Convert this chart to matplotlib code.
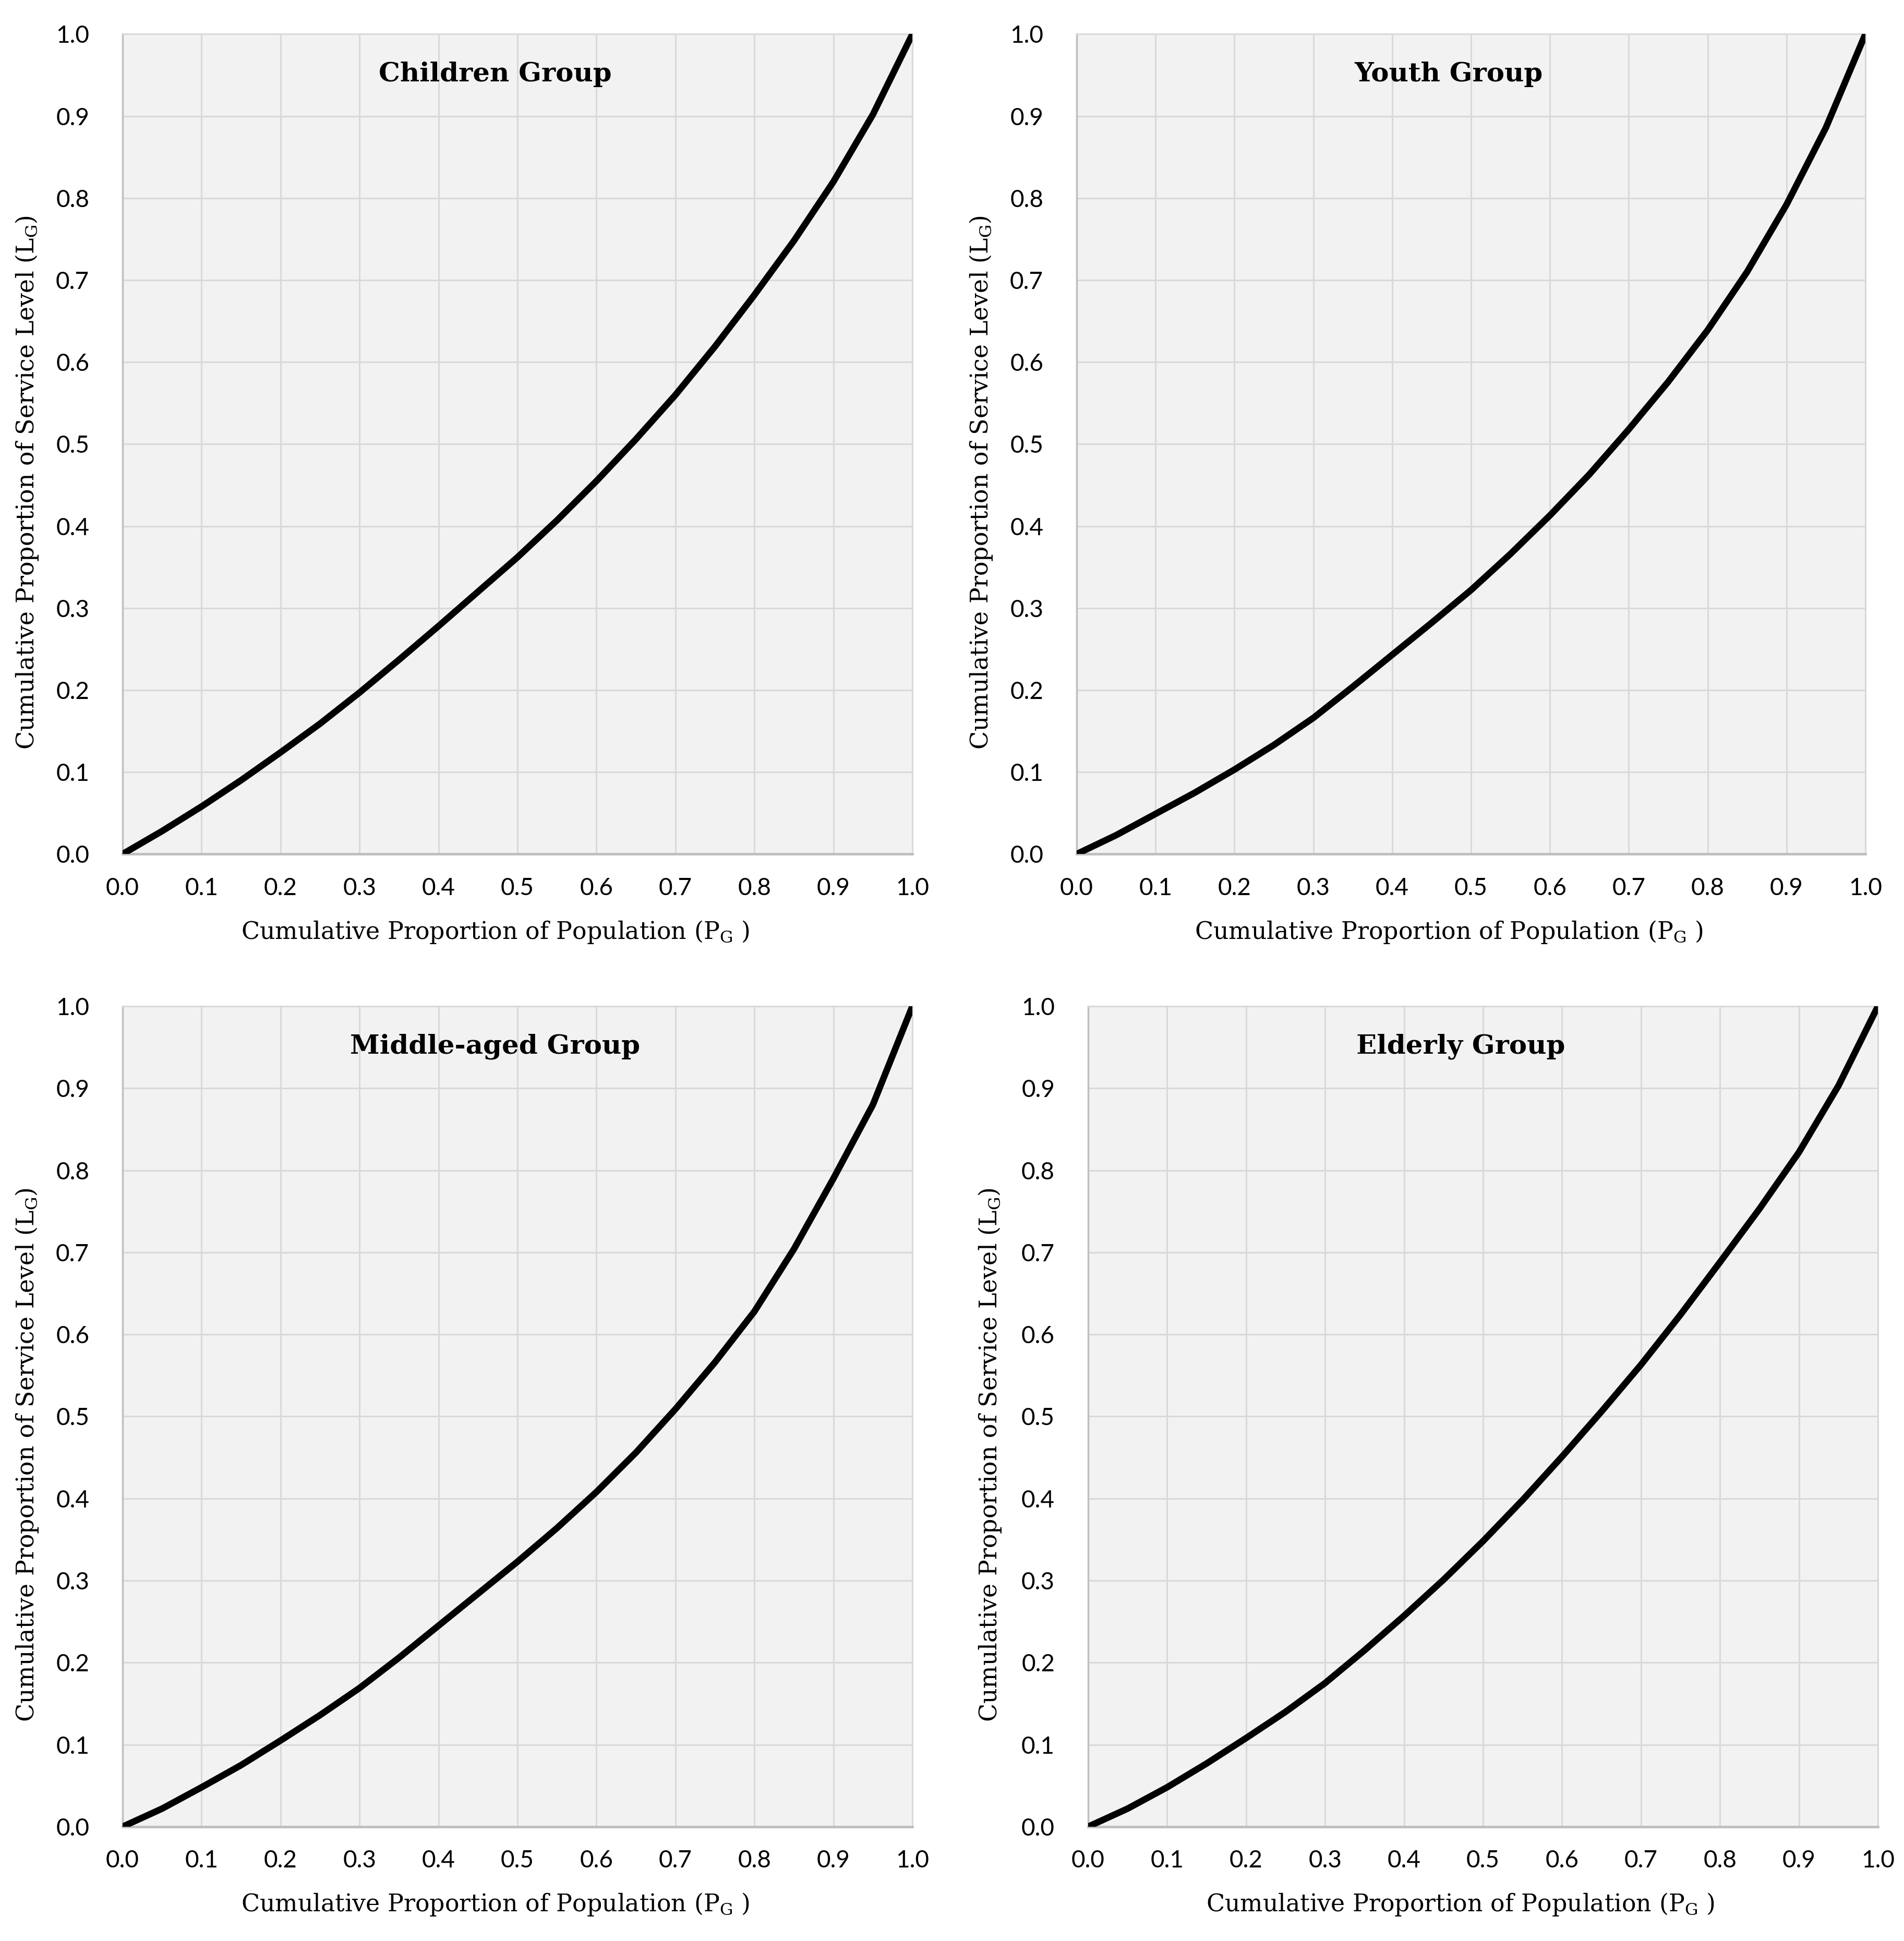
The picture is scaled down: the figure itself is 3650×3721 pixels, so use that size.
import matplotlib
matplotlib.use("Agg")
import matplotlib.pyplot as plt

plt.rcParams['font.family'] = ['DejaVu Serif']
plt.rcParams['mathtext.fontset'] = 'dejavuserif'

# cumulative proportion of population (x)
pop = [0.0, 0.05, 0.1, 0.15, 0.2, 0.25, 0.3, 0.35, 0.4, 0.45, 0.5,
       0.55, 0.6, 0.65, 0.7, 0.75, 0.8, 0.85, 0.9, 0.95, 1.0]

# cumulative proportion of service level per group
children = [0.0, 0.028, 0.058, 0.090, 0.124, 0.159, 0.197, 0.237, 0.278, 0.320, 0.362,
            0.407, 0.455, 0.506, 0.560, 0.619, 0.682, 0.748, 0.820, 0.902, 1.0]
youth = [0.0, 0.023, 0.049, 0.075, 0.103, 0.133, 0.166, 0.204, 0.243, 0.282, 0.322,
         0.366, 0.413, 0.463, 0.518, 0.576, 0.639, 0.710, 0.792, 0.886, 1.0]
middle = [0.0, 0.022, 0.048, 0.075, 0.105, 0.136, 0.169, 0.206, 0.245, 0.284, 0.323,
          0.364, 0.408, 0.456, 0.509, 0.566, 0.628, 0.704, 0.790, 0.880, 1.0]
elderly = [0.0, 0.022, 0.048, 0.077, 0.108, 0.140, 0.175, 0.215, 0.257, 0.301, 0.348,
           0.398, 0.451, 0.506, 0.563, 0.624, 0.688, 0.753, 0.822, 0.903, 1.0]

titles = ['Children Group', 'Youth Group', 'Middle-aged Group', 'Elderly Group']
series = [children, youth, middle, elderly]

ticks = [i / 10 for i in range(11)]
tick_labels = ['%.1f' % t for t in ticks]

# axes boxes in figure fractions [left, bottom, width, height]
boxes = [
    [0.0644, 0.5600, 0.4148, 0.4224],
    [0.5655, 0.5600, 0.4142, 0.4224],
    [0.0644, 0.0589, 0.4148, 0.4227],
    [0.5715, 0.0589, 0.4148, 0.4227],
]
ylab_x = [-0.121, -0.121, -0.121, -0.124]

fig = plt.figure(figsize=(36.5, 37.21), dpi=100)

for box, title, vals, yx in zip(boxes, titles, series, ylab_x):
    ax = fig.add_axes(box)
    ax.set_facecolor('#f2f2f2')
    ax.plot(pop, vals, color='black', lw=9, solid_capstyle='round', solid_joinstyle='round', zorder=3)
    ax.set_xlim(0, 1)
    ax.set_ylim(0, 1)
    ax.set_xticks(ticks)
    ax.set_yticks(ticks)
    ax.set_xticklabels(tick_labels, family='Lato')
    ax.set_yticklabels(tick_labels, family='Lato')
    ax.grid(True, color='#d9d9d9', lw=2.2, zorder=0)
    ax.set_axisbelow(True)
    ax.tick_params(length=0, labelsize=33)
    ax.tick_params(axis='x', pad=32)
    ax.tick_params(axis='y', pad=46)
    for side in ['top', 'right']:
        ax.spines[side].set_color('#d9d9d9')
        ax.spines[side].set_linewidth(2.2)
    for side in ['left', 'bottom']:
        ax.spines[side].set_color('#bfbfbf')
        ax.spines[side].set_linewidth(2.5)
    ax.spines['bottom'].set_linewidth(3.5)

    ax.text(0.4716, 0.951, title, transform=ax.transAxes, ha='center', va='center',
            fontsize=37, fontweight='bold')

    ax.set_xlabel('Cumulative Proportion of Population (P$_{\\mathrm{G}}$ )', fontsize=33)
    ax.xaxis.label.set_va('center')
    ax.xaxis.set_label_coords(0.4716, -0.095)
    ax.set_ylabel('Cumulative Proportion of Service Level (L$_{\\mathrm{G}}$)', fontsize=33)
    ax.yaxis.label.set_va('center')
    ax.yaxis.set_label_coords(yx, 0.453)

fig.savefig('out.png', dpi=100, facecolor='white')
